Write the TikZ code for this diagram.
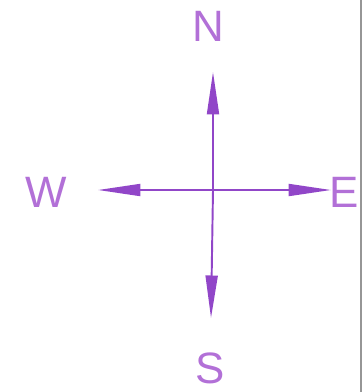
\documentclass[tikz,border=0pt]{standalone}
\usepackage{fontspec}
\setmainfont{Liberation Sans}
\usetikzlibrary{arrows.meta, positioning}
\definecolor{penpurple}{RGB}{145,70,200}
\definecolor{inkpurple}{RGB}{178,112,215}
\definecolor{pageedge}{RGB}{150,150,150}

\begin{document}
\begin{tikzpicture}[
  x=0.02cm, y={(0,-0.02cm)},
  lbl/.style={font=\fontsize{25}{27}\selectfont, text=inkpurple, inner sep=0pt},
  axis/.style={-{Triangle[length=0.85cm, width=0.24cm]}, draw=penpurple,
               fill=penpurple, line width=1.1pt},
]
\useasboundingbox (0,0) rectangle (363,392);
% page edge
\draw[pageedge, line width=1pt] (361,0) -- (361,392);

% LABELS
\node[lbl] (north) at (208, 26) {N};
\node[lbl] (east)  at (344,192) {E};
\node[lbl] (south) at (210,368) {S};
\node[lbl] (west)  at ( 46,192) {W};

% ARMS
\coordinate (c)  at (213,190);
\coordinate (nt) at (213, 72);
\coordinate (et) at (331,190);
\coordinate (st) at (211,318);
\coordinate (wt) at ( 98,190);
\draw[axis] (c) -- (nt);
\draw[axis] (c) -- (et);
\draw[axis] (c) -- (st);
\draw[axis] (c) -- (wt);
\end{tikzpicture}
\end{document}
